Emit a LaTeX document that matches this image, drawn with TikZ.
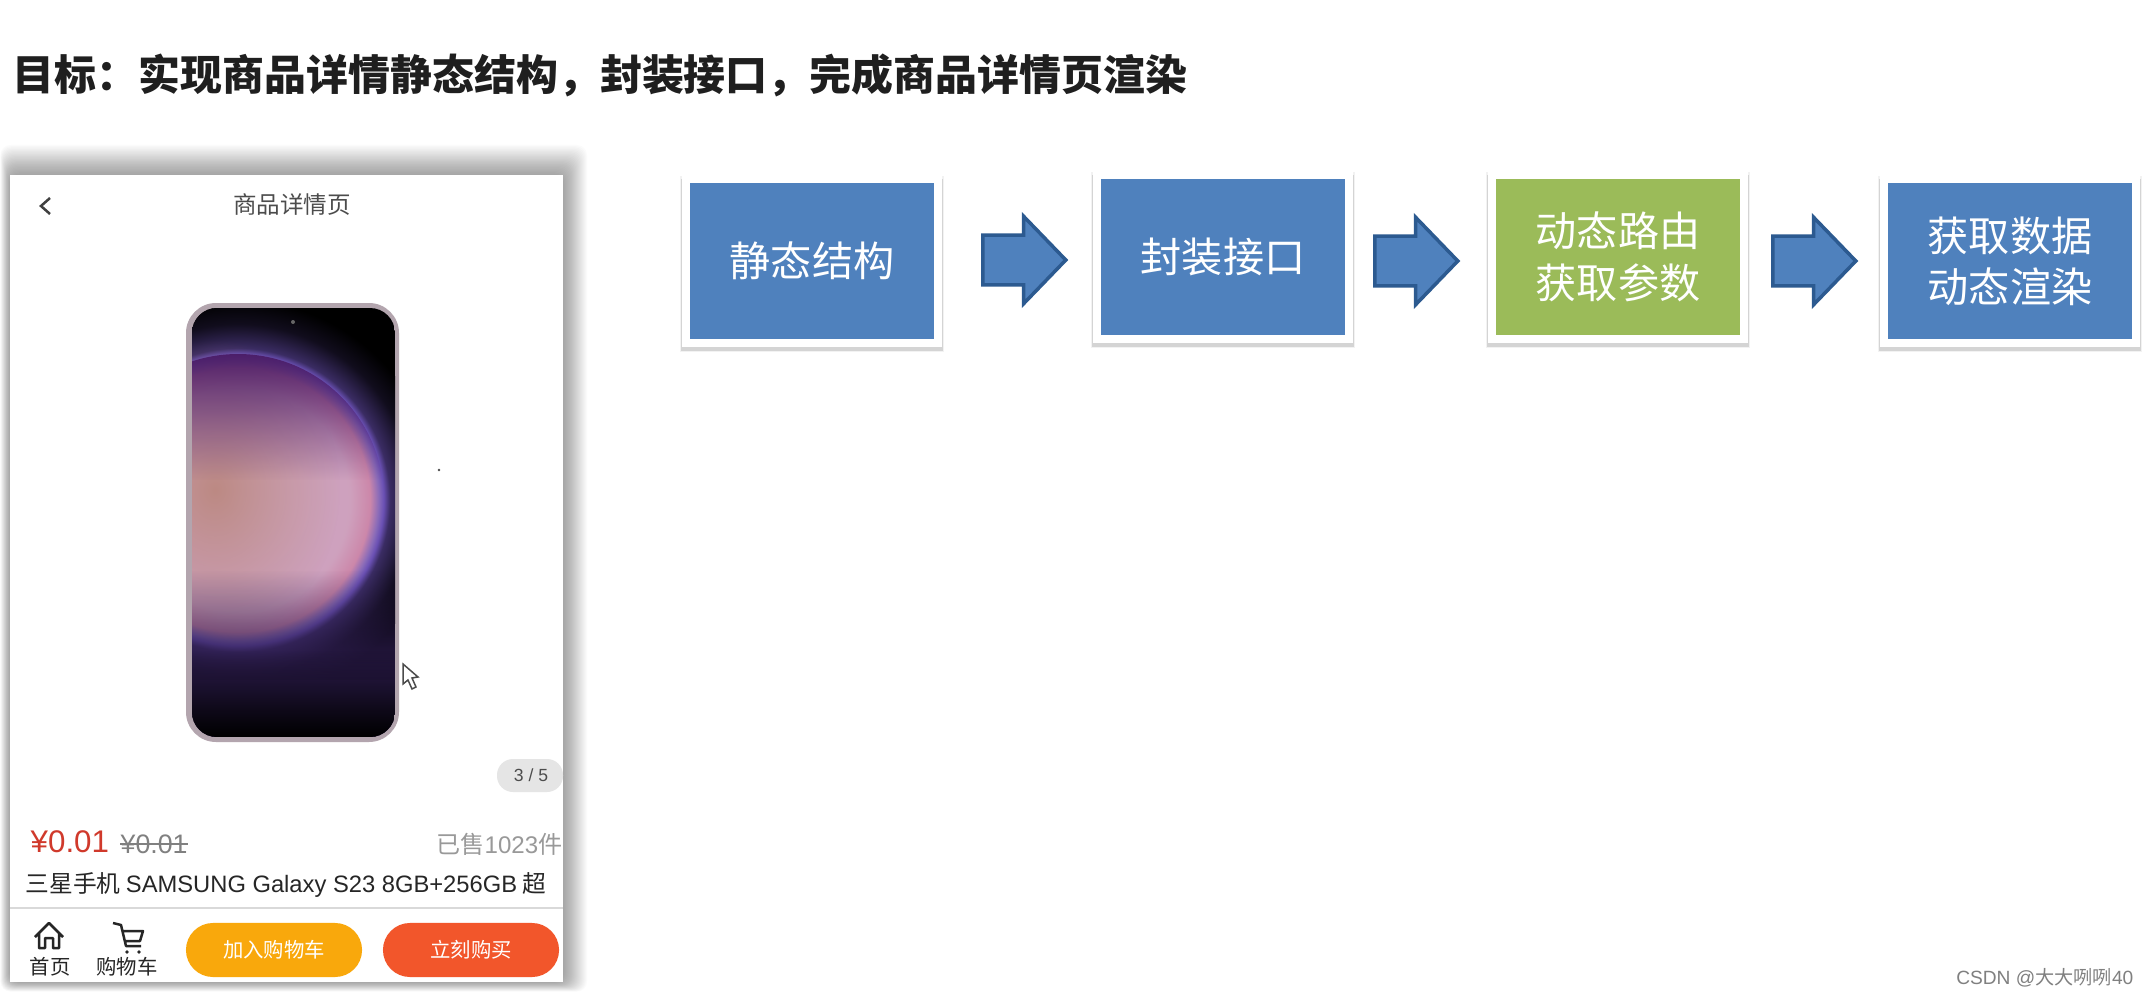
\documentclass[tikz,border=0pt]{standalone}
\usepackage{fontspec}
\setmainfont{Noto Sans CJK SC}
\newfontfamily\latinfont{Liberation Sans}
\usetikzlibrary{shapes.arrows,fadings}
\definecolor{boxblue}{HTML}{4F81BD}
\definecolor{boxgreen}{HTML}{9BBB59}
\definecolor{arrowedge}{HTML}{2C5A90}
\definecolor{redprice}{HTML}{D0392B}
\definecolor{btnorange}{HTML}{F9A80C}
\definecolor{btnred}{HTML}{F2562B}
\definecolor{framelilac}{HTML}{B3A5AE}
\definecolor{orbrose}{HTML}{CFA9C4}
\definecolor{orbrim}{HTML}{6A50B4}
\definecolor{orbtop}{HTML}{4A1C66}
\definecolor{orbwarm}{HTML}{B98478}
\definecolor{orblow}{HTML}{2E1D50}
\pgfdeclareradialshading{orbshade}{\pgfpoint{0bp}{0bp}}{%
    color(0bp)=(orbrose);
    color(14bp)=(orbrose!95!purple);
    color(16.5bp)=(orbrose!80!purple);
    color(17.6bp)=(orbrim!70!orbrose);
    color(18.2bp)=(orbrim);
    color(19bp)=(orbrim!55!black);
    color(22bp)=(orbrim!16!black);
    color(25bp)=(black);
    color(50bp)=(black)}
\tikzfading[name=softblob,inner color=transparent!15,outer color=transparent!100]
\tikzset{
    cardbox/.style={draw=white,line width=.08cm,minimum width=2.52cm,minimum height=1.63cm,inner sep=0pt,text=white,align=center,
        font=\fontsize{11.7}{14.6}\selectfont,
        preaction={draw=black,draw opacity=.05,line width=.12cm,transform canvas={yshift=-.03cm}},
        preaction={draw=black,draw opacity=.12,line width=.09cm,transform canvas={yshift=-.04cm}}},
    flowarrow/.style={single arrow,anchor=tail,fill=boxblue,draw=arrowedge,line width=.035cm,inner sep=.23cm,
        minimum height=.83cm,minimum width=.83cm,single arrow head extend=.19cm,single arrow tip angle=92,single arrow head indent=0pt},
    buybtn/.style={rectangle,rounded corners=.27cm,minimum width=1.76cm,minimum height=.54cm,inner sep=0pt,text=white,
        font=\fontsize{5.8}{7}\selectfont},
    tablabel/.style={inner sep=0pt,text=black!85,font=\fontsize{5.8}{7}\selectfont},
    iconline/.style={draw=black!85,line width=.025cm,line join=round}
}
\begin{document}
\begin{tikzpicture}[x=.01cm,y=-.01cm]
    \useasboundingbox (0,0) rectangle (2148,997);
    \fill[white] (0,0) rectangle (2148,997);
    \node[anchor=west,inner sep=0pt,text=black!88,font=\fontsize{11.93}{14}\selectfont\bfseries] (headline) at (12,75) {目标：实现商品详情静态结构，封装接口，完成商品详情页渲染};
    \foreach \g in {1,...,24}
        \fill[black,opacity=.016,rounded corners=.1cm] (10-\g*.4,175-\g*1.25) rectangle (563+\g,982+\g*.4);
    \fill[white] (10,175) rectangle (563,982);
    \node[inner sep=0pt,text=black!70,font=\fontsize{6.7}{8}\selectfont] (pagetitle) at (292,205) {商品详情页};
    \coordinate (backtop) at (50,198);
    \coordinate (backtip) at (41,206);
    \coordinate (backend) at (50,214);
    \draw[black!75,line width=.025cm] (backtop)--(backtip)--(backend);
    \fill[framelilac] (186,303) [rounded corners=.3cm] rectangle (399,742);
    \begin{scope}
        \clip[rounded corners=.25cm] (192,308) rectangle (395,737);
        \fill[black] (192,308) rectangle (395,737);
        \shade[shading=orbshade] (238,500) circle (200);
        \fill[orbwarm,path fading=softblob] (215,490) ellipse (125 and 150);
        \begin{scope}
            \clip (238,500) circle (146);
            \fill[orbtop,path fading=south,fill opacity=.95] (192,354) rectangle (395,480);
        \end{scope}
        \fill[orblow,path fading=north,fill opacity=.95] (192,570) rectangle (395,680);
        \fill[orblow] (192,680) rectangle (395,737);
        \fill[black,path fading=north] (192,650) rectangle (395,737);
    \end{scope}
    \fill[black!60] (293,322) circle (2);
    \fill[black!70] (439,470) circle (1.4);
    \draw[black!70,fill=white,line width=.015cm] (403,664)--(403,684)--(408,680)--(412,689)--(416,687)--(412,678)--(418,677)--cycle;
    \fill[black!10,rounded corners=.16cm] (497,759) rectangle (563,792);
    \node[inner sep=0pt,text=black!70,font=\latinfont\fontsize{5}{6}\selectfont] (pagecount) at (531,775) {3 / 5};
    \node[anchor=west,inner sep=0pt,text=redprice,font=\latinfont\fontsize{8.9}{10}\selectfont] (nowprice) at (30,842) {¥0.01};
    \node[anchor=west,inner sep=0pt,text=black!50,font=\latinfont\fontsize{7.6}{9}\selectfont] (oldprice) at (120,844) {¥0.01};
    \draw[black!50,line width=.02cm] (oldprice.west)--(oldprice.east);
    \node[anchor=east,inner sep=0pt,text=black!40,font=\fontsize{6.85}{8}\selectfont] (soldcount) at (563,844) {已售{\latinfont 1023}件};
    \node[anchor=west,inner sep=0pt,text=black!85,font=\fontsize{6.75}{8}\selectfont] (goodsname) at (25,885) {三星手机 {\latinfont SAMSUNG Galaxy S23 8GB+256GB} 超};
    \draw[black!15,line width=.015cm] (10,908)--(563,908);
    \draw[iconline] (35,937)--(49,923)--(63,937) (39,933)--(39,948)--(45,948)--(45,938)--(53,938)--(53,948)--(59,948)--(59,933);
    \draw[iconline] (113,923)--(121,925)--(126,946)--(141,946) (122,931)--(143,931)--(140,941)--(125,941);
    \fill[black!85] (127,952) circle (1.8) (139,952) circle (1.8);
    \node[tablabel] (homelabel) at (50,967) {首页};
    \node[tablabel] (cartlabel) at (127,967) {购物车};
    \node[buybtn,fill=btnorange] (addcart) at (274,950) {加入购物车};
    \node[buybtn,fill=btnred] (buynow) at (471,950) {立刻购买};
    \node[cardbox,fill=boxblue] (staticbox) at (812,261) {静态结构};
    \node[cardbox,fill=boxblue] (apibox) at (1223,257) {封装接口};
    \node[cardbox,fill=boxgreen] (routebox) at (1618,257) {动态路由\\获取参数};
    \node[cardbox,fill=boxblue] (renderbox) at (2010,261) {获取数据\\动态渲染};
    \node[flowarrow] (arrowa) at (981,260) {};
    \node[flowarrow] (arrowb) at (1373,261) {};
    \node[flowarrow] (arrowc) at (1771,261) {};
    \node[anchor=east,inner sep=0pt,text=black!50,font=\fontsize{5.45}{7}\selectfont] (watermark) at (2134,978) {{\latinfont CSDN @}大大咧咧{\latinfont 40}};
\end{tikzpicture}
\end{document}
